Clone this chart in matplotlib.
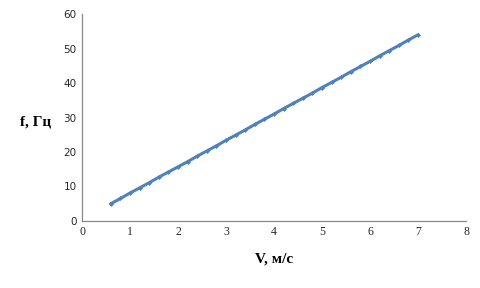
import matplotlib

matplotlib.use("Agg")
import matplotlib.pyplot as plt

# speed V (m/s) vs frequency f (Hz)
speed = [0.6, 0.8, 1.0, 1.2, 1.4, 1.6, 1.8, 2.0, 2.2, 2.4, 2.6, 2.8, 3.0,
         3.2, 3.4, 3.6, 3.8, 4.0, 4.2, 4.4, 4.6, 4.8, 5.0, 5.2, 5.4, 5.6,
         5.8, 6.0, 6.2, 6.4, 6.6, 6.8, 7.0]
freq = [5.0, 6.5, 8.1, 9.6, 11.1, 12.7, 14.2, 15.7, 17.2, 18.8, 20.3, 21.8,
        23.4, 24.9, 26.4, 28.0, 29.5, 31.0, 32.6, 34.1, 35.6, 37.1, 38.7,
        40.2, 41.7, 43.3, 44.8, 46.3, 47.9, 49.4, 50.9, 52.5, 54.0]
x_ticks = [0, 1, 2, 3, 4, 5, 6, 7, 8]
y_ticks = [0, 10, 20, 30, 40, 50, 60]

fig = plt.figure(figsize=(4.8, 2.88), dpi=100)
ax = fig.add_axes([0.171, 0.233, 0.8, 0.718])

ax.plot(speed, freq, color="#4f81bd", linewidth=2.2, marker="D",
        markersize=2.0, markeredgewidth=0.5, markeredgecolor="#4f81bd")

ax.set_xlim(0, 8)
ax.set_ylim(0, 60)
ax.set_xticks(x_ticks)
ax.set_yticks(y_ticks)
ax.set_xticklabels([str(t) for t in x_ticks], family="Liberation Serif", fontsize=8.5)
ax.set_yticklabels([str(t) for t in y_ticks], family="DejaVu Sans", fontsize=7.5)
ax.tick_params(length=0, pad=4, colors="#262626")

for side in ("top", "right"):
    ax.spines[side].set_visible(False)
for side in ("left", "bottom"):
    ax.spines[side].set_color("#888888")
    ax.spines[side].set_linewidth(0.9)

ax.set_xlabel("V, м/с", family="Liberation Serif", fontsize=11, fontweight="bold", labelpad=10)
fig.text(0.075, 0.575, "f, Гц", family="Liberation Serif", fontsize=11,
         fontweight="bold", ha="center", va="center")

fig.savefig("out.png", dpi=100)
